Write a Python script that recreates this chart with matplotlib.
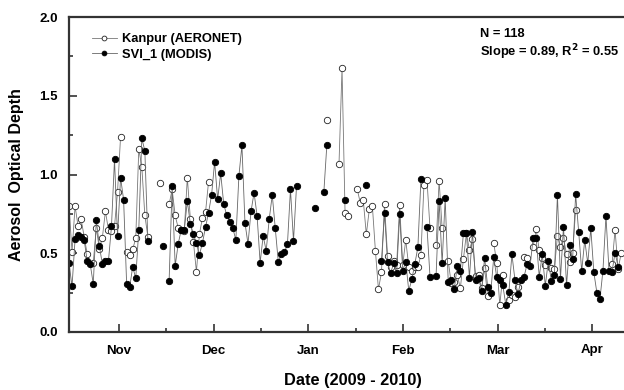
import numpy as np
import pandas as pd
import matplotlib
matplotlib.use('Agg')
import matplotlib.pyplot as plt

plt.rcParams['font.family'] = ['Liberation Sans', 'DejaVu Sans']
plt.rcParams['font.weight'] = 'bold'

# days counted from 1 Oct 2009
kanpur_day = [15, 16, 17, 18, 19, 20, 21, 23, 24, 25, 26, 27, 28, 29, 30, 31, 32, 34, 35, 36,
              37, 38, 39, 40, 41, 45, 48, 49, 50, 51, 52, 53, 54, 55, 56, 57, 58, 59, 60, 61,
              100, 104, 105, 106, 107, 110, 111, 112, 113, 114, 115, 116, 117, 118, 119, 120,
              121, 122, 123, 124, 125, 126, 127, 128, 129, 130, 131, 132, 133, 134, 136, 137,
              138, 140, 141, 142, 143, 144, 145, 146, 147, 148, 149, 150, 151, 152, 153, 155,
              156, 157, 158, 160, 161, 162, 163, 165, 166, 168, 169, 170, 171, 172, 174, 175,
              176, 177, 178, 179, 180, 181, 182, 194, 195, 196, 197]
kanpur_aod = [0.80, 0.51, 0.80, 0.67, 0.715, 0.605, 0.495, 0.44, 0.66, 0.527, 0.60, 0.766, 0.65, 0.64, 0.67, 0.89, 1.24, 0.51, 0.49, 0.525,
              0.595, 1.16, 1.05, 0.74, 0.605, 0.944, 0.81, 0.905, 0.74, 0.66, 0.65, 0.64, 0.98, 0.72, 0.574, 0.383, 0.622, 0.726, 0.76, 0.954,
              1.346, 1.067, 1.674, 0.753, 0.739, 0.908, 0.821, 0.838, 0.62, 0.779, 0.80, 0.516, 0.271, 0.379, 0.813, 0.483,
              0.415, 0.453, 0.425, 0.806, 0.425, 0.584, 0.415, 0.387, 0.415, 0.41, 0.489, 0.933, 0.965, 0.658, 0.552, 0.961,
              0.658, 0.45, 0.31, 0.32, 0.362, 0.277, 0.461, 0.626, 0.52, 0.588, 0.355, 0.362, 0.277, 0.404, 0.229, 0.567,
              0.436, 0.171, 0.362, 0.203, 0.235, 0.224, 0.288, 0.474, 0.468, 0.542, 0.652, 0.52, 0.468, 0.425, 0.404, 0.398,
              0.61, 0.542, 0.595, 0.495, 0.447, 0.5, 0.775, 0.432, 0.648, 0.398, 0.5]

modis_day = list(range(15, 42)) + [46] + list(range(48, 91)) + [96, 99, 100, 106, 113] + \
    list(range(118, 132)) + [133, 134] + list(range(136, 197))
modis_aod = [0.436, 0.29, 0.588, 0.616, 0.605, 0.584, 0.45, 0.43, 0.305, 0.71, 0.548, 0.43, 0.45, 0.45, 0.67, 1.096, 0.61, 0.98, 0.84, 0.305,
             0.284, 0.415, 0.34, 0.65, 1.23, 1.15, 0.578,
             0.548,
             0.326, 0.927, 0.42, 0.56, 0.65, 0.65, 0.83, 0.686, 0.62, 0.563, 0.49, 0.567, 0.665, 0.758, 0.87, 1.08, 0.842, 1.007, 0.813, 0.74,
             0.70, 0.66, 0.584, 0.99, 1.185, 0.694, 0.559, 0.766, 0.884, 0.739, 0.44, 0.61, 0.516, 0.717, 0.87, 0.66, 0.443, 0.495,
             0.506, 0.556, 0.906, 0.578, 0.927,
             0.79, 0.887, 1.19, 0.838, 0.931,
             0.453, 0.753, 0.447, 0.372, 0.436, 0.372, 0.749, 0.389, 0.447, 0.262, 0.334, 0.432, 0.538, 0.969,
             0.665, 0.351,
             0.358, 0.834, 0.436, 0.849, 0.32, 0.33, 0.273, 0.421, 0.389, 0.626, 0.626, 0.345, 0.637, 0.33, 0.345, 0.26,
             0.472, 0.288, 0.245, 0.474, 0.347, 0.33, 0.296, 0.171, 0.254, 0.493, 0.33, 0.241, 0.33, 0.351, 0.43, 0.421,
             0.595, 0.595, 0.351, 0.493, 0.294, 0.451, 0.324, 0.362, 0.87, 0.337, 0.669, 0.298, 0.552, 0.461, 0.874, 0.637,
             0.387, 0.584, 0.436, 0.658, 0.379, 0.25, 0.207, 0.389, 0.737, 0.389, 0.383, 0.504, 0.415]

months = ['Nov', 'Dec', 'Jan', 'Feb', 'Mar', 'Apr']

# daily axis, NaN where no retrieval so the line breaks at gaps
days = np.arange(15, 199)
kanpur = pd.Series(kanpur_aod, index=kanpur_day).reindex(days)
modis = pd.Series(modis_aod, index=modis_day).reindex(days)

fig = plt.figure(figsize=(6.24, 3.9), dpi=100)
ax = fig.add_axes([69/624, 58/390, 567/624, 315/390])

ax.plot(days, kanpur.values, '-o', color='#777777', lw=0.6, ms=4.6, mfc='white', mec='#222222', mew=0.6,
        label='Kanpur (AERONET)')
ax.plot(days, modis.values, '-o', color='#666666', lw=0.6, ms=4.6, mfc='black', mec='black', mew=0.6,
        label='SVI_1 (MODIS)')

ax.set_xlim(15, 201.9)
ax.set_ylim(0, 2.0)

month_pos = 31.5 + 31.2 * np.arange(len(months))
ax.set_xticks(month_pos)
ax.set_xticklabels(months)
ax.set_xticks(month_pos[:-1] + 15.6, minor=True)
ax.set_yticks([0.0, 0.5, 1.0, 1.5, 2.0])
ax.set_yticklabels(['0.0', '0.5', '1.0', '1.5', '2.0'])
ax.set_yticks(np.arange(0.25, 2.0, 0.5), minor=True)
ax.tick_params(which='both', direction='in', labelsize=9.5, width=1.2, color='#333333')
ax.tick_params(which='major', length=5.5)
ax.tick_params(which='minor', length=3)
ax.tick_params(axis='x', pad=9)
ax.tick_params(axis='y', pad=8)

for s in ['left', 'bottom', 'top']:
    ax.spines[s].set_linewidth(1.6)
    ax.spines[s].set_color('#333333')
ax.spines['right'].set_visible(False)

ax.set_xlabel('Date (2009 - 2010)', fontsize=11.8, fontweight='bold', labelpad=12)
ax.set_ylabel('Aerosol  Optical Depth', fontsize=11.5, fontweight='bold', labelpad=11)

leg = ax.legend(loc='upper left', bbox_to_anchor=(0.02, 0.985), frameon=False, fontsize=9.3,
                handlelength=1.9, handletextpad=0.4, labelspacing=0.25, markerscale=0.75)
for t in leg.get_texts():
    t.set_fontweight('bold')

fig.text(480/624, 1 - 34/390, 'N = 118', fontsize=9.3, fontweight='bold', va='center')
fig.text(480/624, 1 - 52/390, 'Slope = 0.89, R$^\\mathbf{2}$ = 0.55', fontsize=9.3, fontweight='bold', va='center')

fig.savefig('out.png', dpi=100)
